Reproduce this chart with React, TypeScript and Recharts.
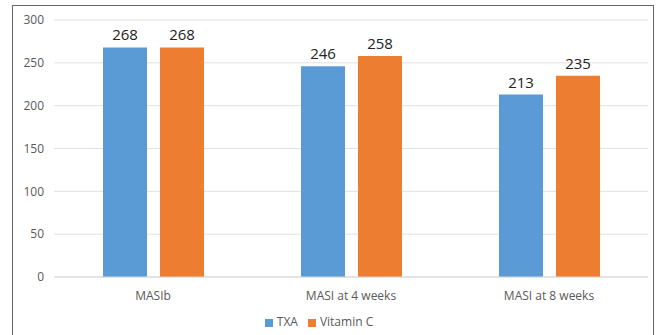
import { Bar, BarChart, CartesianGrid, LabelList, Legend, XAxis, YAxis } from "recharts";

const categories = ["MASIb", "MASI at 4 weeks", "MASI at 8 weeks"];
const txa = [268, 246, 213];
const vitaminC = [268, 258, 235];
const yTicks = [0, 50, 100, 150, 200, 250, 300];

const data = categories.map((name, i) => ({ name, txa: txa[i], vitc: vitaminC[i] }));

const FONT = "'Open Sans', sans-serif";

export default function App() {
  return (
    <div style={{ position: "absolute", left: 0, top: 0, width: 659, height: 335, background: "#fff", fontFamily: FONT }}>
      {/* frame round the chart */}
      <div
        style={{
          position: "absolute",
          left: 12,
          top: 5,
          width: 642,
          height: 332,
          border: "1px solid #666",
          boxSizing: "border-box",
        }}
      />
      <BarChart
        width={659}
        height={335}
        data={data}
        margin={{ top: 20, right: 11, left: 0, bottom: 5 }}
        barSize={44}
        barGap={13}
        style={{ position: "absolute", left: 0, top: 0 }}
      >
        <CartesianGrid vertical={false} stroke="#e0e0e0" />
        <XAxis
          dataKey="name"
          height={36}
          axisLine={{ stroke: "#d9d9d9" }}
          tickLine={false}
          tick={{ fill: "#595959", fontSize: 12, fontFamily: FONT }}
          tickMargin={8}
        />
        <YAxis
          width={54}
          domain={[0, 300]}
          ticks={yTicks}
          axisLine={false}
          tickLine={false}
          tickMargin={4}
          tick={{ fill: "#595959", fontSize: 12, fontFamily: FONT }}
        />
        <Legend
          verticalAlign="bottom"
          iconType="square"
          iconSize={8}
          wrapperStyle={{ fontSize: 12, fontFamily: FONT, color: "#595959" }}
          formatter={(v) => <span style={{ color: "#595959" }}>{v}</span>}
        />
        <Bar dataKey="txa" name="TXA" fill="#5b9bd5" isAnimationActive={false}>
          <LabelList dataKey="txa" position="top" offset={7} fill="#222" fontSize={15} fontFamily={FONT} />
        </Bar>
        <Bar dataKey="vitc" name="Vitamin C" fill="#ed7d31" isAnimationActive={false}>
          <LabelList dataKey="vitc" position="top" offset={7} fill="#222" fontSize={15} fontFamily={FONT} />
        </Bar>
      </BarChart>
    </div>
  );
}
